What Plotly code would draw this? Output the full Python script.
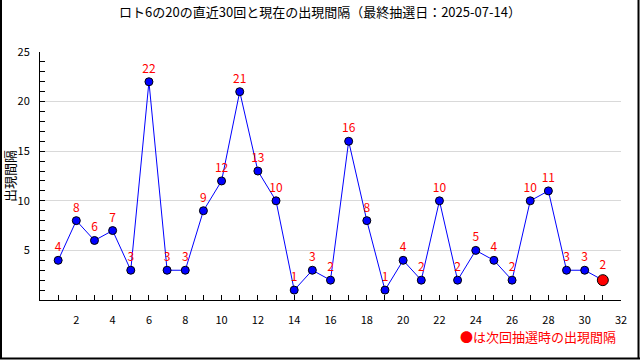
import plotly.graph_objects as go

draws = list(range(1, 31))
intervals = [4, 8, 6, 7, 3, 22, 3, 3, 9, 12, 21, 13, 10, 1, 3, 2, 16, 8, 1, 4, 2, 10, 2, 5, 4, 2, 10, 11, 3, 3]
current_x = [31]
current_y = [2]
x_tickvals = list(range(2, 33, 2))
y_tickvals = [5, 10, 15, 20, 25]
title_text = "ロト6の20の直近30回と現在の出現間隔（最終抽選日：2025-07-14）"
ytitle = "出現間隔"
note = "●は次回抽選時の出現間隔"

W, H = 640, 360
L, R, T, B = 40, 19, 52, 60
PW, PH = W - L - R, H - T - B

def px(x):
    return (x - L) / PW

def py(y):
    return (H - B - y) / PH

FONT = "Noto Sans CJK JP"

fig = go.Figure()
fig.add_trace(go.Scatter(
    x=draws + current_x, y=intervals + current_y, mode="lines",
    line=dict(color="#0000ff", width=1), hoverinfo="skip", showlegend=False))
fig.add_trace(go.Scatter(
    x=draws, y=intervals, mode="markers+text",
    marker=dict(color="#0000ff", size=8, line=dict(color="black", width=1)),
    text=[str(v) for v in intervals], textposition="top center",
    textfont=dict(color="#ff0000", size=12, family=FONT), showlegend=False))
fig.add_trace(go.Scatter(
    x=current_x, y=current_y, mode="markers+text",
    marker=dict(color="#ff0000", size=11, line=dict(color="black", width=1)),
    text=[str(v) for v in current_y], textposition="top center",
    textfont=dict(color="#ff0000", size=12, family=FONT), showlegend=False))

fig.update_layout(
    width=W, height=H,
    margin=dict(l=L, r=R, t=T, b=B, autoexpand=False),
    paper_bgcolor="white", plot_bgcolor="white",
    font=dict(family=FONT, size=11, color="black"),
    title=dict(text=title_text, x=0.5, xanchor="center", y=1 - 12 / H, yanchor="middle",
               font=dict(size=13, color="black", family=FONT)),
    xaxis=dict(range=[0, 32], tickvals=x_tickvals, ticks="inside", ticklen=5, tickcolor="black",
               showline=True, linecolor="black", linewidth=1, showgrid=False, zeroline=False,
               automargin=False,
               ticklabelstandoff=10, tickfont=dict(size=11),
               minor=dict(ticks="inside", ticklen=5, dtick=1, tickcolor="black", showgrid=False)),
    yaxis=dict(range=[0, 25], tickvals=y_tickvals, ticks="inside", ticklen=5, tickcolor="black",
               showline=True, linecolor="black", linewidth=1, showgrid=True, gridcolor="#d9d9d9",
               zeroline=False, ticklabelstandoff=7, tickfont=dict(size=11), automargin=False,
               title=dict(text=ytitle, font=dict(size=13), standoff=5),
               minor=dict(ticks="inside", ticklen=5, dtick=1, tickcolor="black", showgrid=False)),
    shapes=[
        dict(type="line", xref="paper", yref="paper", x0=px(1), x1=px(1), y0=py(0), y1=py(359),
             line=dict(color="black", width=2)),
        dict(type="line", xref="paper", yref="paper", x0=px(638.5), x1=px(638.5), y0=py(0), y1=py(359),
             line=dict(color="black", width=2)),
        dict(type="line", xref="paper", yref="paper", x0=px(0), x1=px(640), y0=py(358.5), y1=py(358.5),
             line=dict(color="black", width=2)),
    ],
    annotations=[dict(text=note, xref="paper", yref="paper", x=px(618), y=py(336),
                      xanchor="right", yanchor="middle", showarrow=False,
                      font=dict(color="#ff0000", size=13, family=FONT))],
)

fig.write_html("out.html", config={"displayModeBar": False},
               post_script="document.body.style.margin='0';")
